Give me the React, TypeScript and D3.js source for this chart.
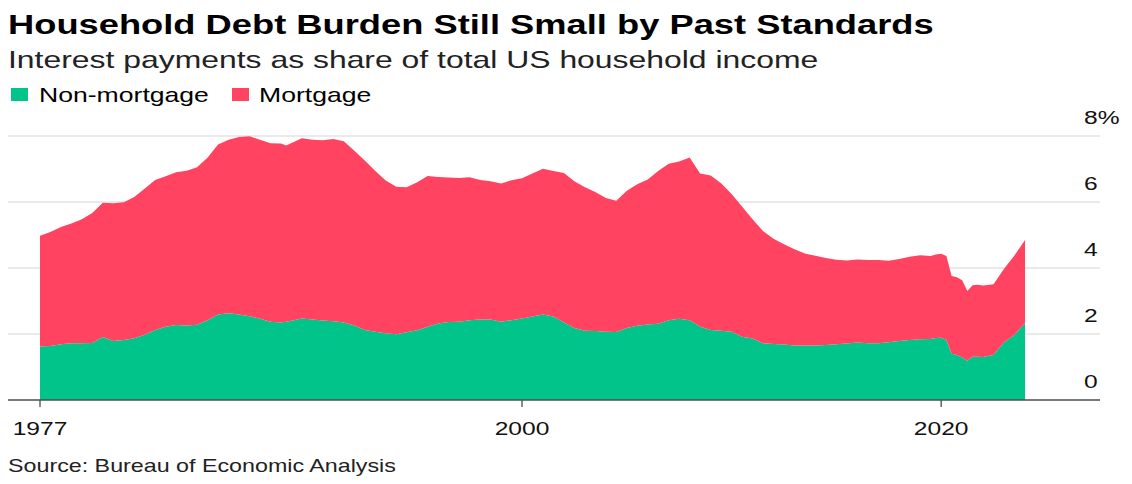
import React from "react";
import * as d3 from "d3";

// Quarterly-ish observations of household interest payments (% of income)
const dates = [
  "1977-01", "1977-07", "1978-01", "1978-07", "1979-01", "1979-07", "1980-01", "1980-07",
  "1981-01", "1981-07", "1982-01", "1982-07", "1983-01", "1983-07", "1984-01", "1984-07",
  "1985-01", "1985-07", "1986-01", "1986-07", "1987-01", "1987-07", "1988-01", "1988-07",
  "1988-10", "1989-01", "1989-07", "1990-01", "1990-07", "1991-01", "1991-07", "1992-01",
  "1992-07", "1993-01", "1993-07", "1994-01", "1994-07", "1995-01", "1995-07", "1996-01",
  "1996-07", "1997-01", "1997-07", "1998-01", "1998-07", "1999-01", "1999-07", "2000-01",
  "2000-07", "2001-01", "2001-07", "2002-01", "2002-07", "2003-01", "2003-07", "2004-01",
  "2004-07", "2005-01", "2005-07", "2006-01", "2006-07", "2007-01", "2007-07", "2008-01",
  "2008-07", "2009-01", "2009-07", "2010-01", "2010-07", "2011-01", "2011-07", "2012-01",
  "2012-07", "2013-01", "2013-07", "2014-01", "2014-07", "2015-01", "2015-07", "2016-01",
  "2016-07", "2017-01", "2017-07", "2018-01", "2018-07", "2019-01", "2019-07", "2019-10",
  "2020-01", "2020-04", "2020-07", "2020-10", "2021-01", "2021-04", "2021-07", "2021-10",
  "2022-01", "2022-07", "2023-01", "2023-07", "2024-01",
];

const nonMortgage = [
  1.62, 1.64, 1.69, 1.72, 1.72, 1.73, 1.91, 1.79,
  1.82, 1.87, 1.98, 2.12, 2.22, 2.27, 2.26, 2.28,
  2.42, 2.59, 2.63, 2.59, 2.54, 2.46, 2.37, 2.35,
  2.37, 2.40, 2.47, 2.44, 2.41, 2.39, 2.35, 2.26,
  2.12, 2.07, 2.02, 1.99, 2.05, 2.11, 2.22, 2.32,
  2.36, 2.37, 2.42, 2.44, 2.44, 2.37, 2.42, 2.47,
  2.53, 2.59, 2.53, 2.35, 2.18, 2.10, 2.09, 2.07,
  2.06, 2.18, 2.25, 2.29, 2.31, 2.42, 2.46, 2.42,
  2.22, 2.12, 2.10, 2.07, 1.92, 1.86, 1.72, 1.70,
  1.68, 1.65, 1.65, 1.65, 1.67, 1.69, 1.71, 1.74,
  1.72, 1.72, 1.75, 1.79, 1.82, 1.84, 1.85, 1.88,
  1.89, 1.82, 1.40, 1.36, 1.29, 1.19, 1.31, 1.31,
  1.30, 1.36, 1.75, 1.97, 2.33,
];

const mortgage = [
  3.36, 3.45, 3.55, 3.63, 3.76, 3.94, 4.07, 4.17,
  4.17, 4.28, 4.43, 4.55, 4.56, 4.63, 4.69, 4.77,
  4.93, 5.15, 5.26, 5.38, 5.45, 5.43, 5.41, 5.42,
  5.34, 5.39, 5.46, 5.45, 5.46, 5.52, 5.49, 5.29,
  5.14, 4.87, 4.63, 4.47, 4.40, 4.49, 4.57, 4.44,
  4.38, 4.36, 4.33, 4.23, 4.19, 4.19, 4.24, 4.25,
  4.33, 4.42, 4.41, 4.53, 4.45, 4.35, 4.21, 4.05,
  3.98, 4.16, 4.29, 4.39, 4.63, 4.74, 4.77, 4.93,
  4.64, 4.68, 4.47, 4.17, 3.94, 3.62, 3.40, 3.19,
  3.04, 2.92, 2.79, 2.72, 2.63, 2.56, 2.52, 2.52,
  2.52, 2.52, 2.47, 2.48, 2.52, 2.55, 2.51, 2.53,
  2.54, 2.54, 2.36, 2.36, 2.34, 2.11, 2.17, 2.18,
  2.17, 2.15, 2.23, 2.41, 2.52,
];

const seriesKeys = ["nonMortgage", "mortgage"];
const seriesLabels = ["Non-mortgage", "Mortgage"];
const seriesColors = ["#00c48a", "#ff4360"];

const yTicks = [0, 2, 4, 6, 8];
const xTickYears = [1977, 2000, 2020];

const W = 1132;
const H = 484;
// Type is set wide: every label is stretched horizontally by this factor.
const SX = 1.33;
const FONT = '"Liberation Sans", Arial, Helvetica, sans-serif';

function WideText(props: {
  x: number;
  y: number;
  size: number;
  weight?: number;
  anchor?: "start" | "middle" | "end";
  fill?: string;
  children: React.ReactNode;
}) {
  const { x, y, size, weight = 400, anchor = "start", fill = "#000", children } = props;
  return (
    <text
      transform={`translate(${x},${y}) scale(${SX},1)`}
      fontSize={size}
      fontWeight={weight}
      textAnchor={anchor}
      fill={fill}
      fontFamily={FONT}
    >
      {children}
    </text>
  );
}

export default function App() {
  const parse = d3.timeParse("%Y-%m");
  const rows = dates.map((d, i) => ({
    date: parse(d) as Date,
    nonMortgage: nonMortgage[i],
    mortgage: mortgage[i],
  }));

  const x = d3
    .scaleTime()
    .domain(d3.extent(rows, (d) => d.date) as [Date, Date])
    .range([40, 1025]);
  const y = d3.scaleLinear().domain([0, 8]).range([400, 136]);

  const stacked = d3.stack<any>().keys(seriesKeys)(rows);
  const area = d3
    .area<any>()
    .x((d) => x(d.data.date))
    .y0((d) => y(d[0]))
    .y1((d) => y(d[1]));

  const gridLeft = 8;
  const gridRight = 1100;

  return (
    <svg
      width={W}
      height={H}
      viewBox={`0 0 ${W} ${H}`}
      style={{ position: "absolute", left: 0, top: 0, background: "#fff" }}
    >
      <rect x={0} y={0} width={W} height={H} fill="#fff" />

      <WideText x={8} y={34} size={27.3} weight={700}>
        Household Debt Burden Still Small by Past Standards
      </WideText>
      <WideText x={8} y={68} size={24} fill="#222">
        Interest payments as share of total US household income
      </WideText>

      {/* legend */}
      <g>
        <rect x={11} y={88} width={17} height={13} fill={seriesColors[0]} />
        <WideText x={39} y={102} size={20}>
          {seriesLabels[0]}
        </WideText>
        <rect x={232} y={88} width={17} height={13} fill={seriesColors[1]} />
        <WideText x={259} y={102} size={20}>
          {seriesLabels[1]}
        </WideText>
      </g>

      {/* horizontal gridlines */}
      {yTicks
        .filter((v) => v > 0)
        .map((v) => (
          <line
            key={v}
            x1={gridLeft}
            x2={gridRight}
            y1={y(v)}
            y2={y(v)}
            stroke="#e3e3e3"
            strokeWidth={1.5}
          />
        ))}

      {/* stacked areas */}
      {stacked.map((s, i) => (
        <path key={s.key} d={area(s) || ""} fill={seriesColors[i]} />
      ))}

      {/* y-axis labels */}
      {yTicks.map((v) => (
        <WideText key={v} x={1084} y={y(v) - 12} size={18.5} fill="#111">
          {v === 8 ? "8%" : String(v)}
        </WideText>
      ))}

      {/* x axis */}
      <line
        x1={gridLeft}
        x2={gridRight}
        y1={y(0)}
        y2={y(0)}
        stroke="#4d4d4d"
        strokeWidth={1.5}
      />
      {xTickYears.map((yr) => {
        const tx = x(new Date(yr, 0, 1));
        return (
          <g key={yr}>
            <line x1={tx} x2={tx} y1={y(0)} y2={y(0) + 7} stroke="#4d4d4d" strokeWidth={1.3} />
            <WideText x={tx} y={435} size={18.5} anchor="middle" fill="#111">
              {String(yr)}
            </WideText>
          </g>
        );
      })}

      <WideText x={8} y={472} size={17.5} fill="#222">
        Source: Bureau of Economic Analysis
      </WideText>
    </svg>
  );
}
